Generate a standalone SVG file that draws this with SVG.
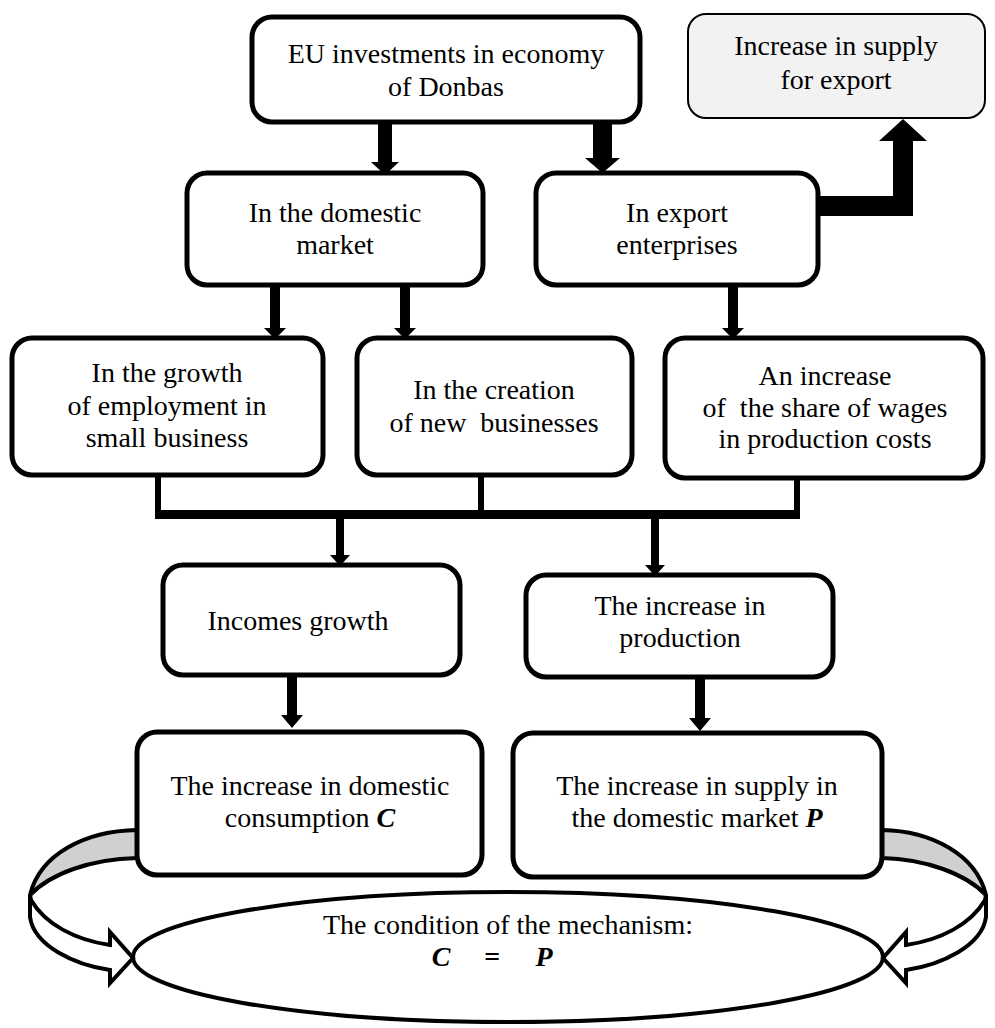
<svg xmlns="http://www.w3.org/2000/svg" width="995" height="1028" viewBox="0 0 995 1028">
<style>
.box{fill:#fff;stroke:#000;stroke-width:5}
.gbox{fill:#f2f2f2;stroke:#000;stroke-width:2}
.t{font-family:"Liberation Serif","Times New Roman",serif;font-size:28px;fill:#000;text-anchor:middle;white-space:pre}
.bi{font-weight:bold;font-style:italic}
.arr{fill:#000;stroke:none}
.ln{stroke:#000;fill:none}
.band{fill:#d0d0d0;stroke:#000;stroke-width:4;stroke-linejoin:round}
.wband{fill:#fff;stroke:#000;stroke-width:4;stroke-linejoin:miter}
</style>
<rect width="995" height="1028" fill="#fff"/>

<g id="mechanism">
<ellipse cx="508" cy="957" rx="375" ry="65" fill="#fff" stroke="#000" stroke-width="4"/>
<text class="t" x="508" y="934">The condition of the mechanism:</text>
<text class="t bi" y="966"><tspan x="441">C</tspan><tspan x="492">=</tspan><tspan x="544">P</tspan></text>
</g>

<g id="connectors">
<path class="arr" d="M378 122 H392 V162 H399 L385 175 L371 162 H378 Z"/>
<path class="arr" d="M593 122 H612 V158 H620 L602.5 173 L585 158 H593 Z"/>
<path class="arr" d="M818 196 H893 V141 H879 L903 119 L927 141 H913 V216 H818 Z"/>
<path class="arr" d="M270 285 H280 V328 H286 L275 339 L264 328 H270 Z"/>
<path class="arr" d="M400 285 H410 V328 H416 L405 339 L394 328 H400 Z"/>
<path class="arr" d="M728 285 H738 V328 H744 L733 339 L722 328 H728 Z"/>
<path class="ln" stroke-width="6" d="M158 475 V514 M481 475 V514 M797 478 V514"/>
<path class="ln" stroke-width="9" d="M155 514.5 H800"/>
<path class="arr" d="M336 519 H344 V555 H350 L340 566 L330 555 H336 Z"/>
<path class="arr" d="M651 519 H659 V565 H665 L655 576 L645 565 H651 Z"/>
<path class="arr" d="M287 675 H297 V715 H303 L292 728 L281 715 H287 Z"/>
<path class="arr" d="M695 677 H705 V718 H711 L700 731 L689 718 H695 Z"/>
<g id="loop-left">
<path class="band" d="M137 830 C 85 831, 40 854, 30 895 C 50 874, 90 859, 137 858 Z"/>
<path class="wband" d="M30 895 L30 917 C 34 946, 75 965, 110 970 L110 983 L133 958 L110 932 L110 945 C 75 940, 45 924, 31 900 Z"/>
</g>
<g id="loop-right" transform="translate(1016,0) scale(-1,1)">
<path class="band" d="M134 830 C 85 831, 40 854, 30 895 C 50 874, 90 859, 134 858 Z"/>
<path class="wband" d="M30 895 L30 917 C 34 946, 75 965, 110 970 L110 983 L133 958 L110 932 L110 945 C 75 940, 45 924, 31 900 Z"/>
</g>
</g>

<g id="eu">
<rect class="box" x="252" y="17" width="388" height="105" rx="20"/>
<text class="t" x="446" y="63">EU investments in economy</text>
<text class="t" x="446" y="96">of Donbas</text>
</g>
<g id="export-supply">
<rect class="gbox" x="688" y="14" width="297" height="104" rx="18"/>
<text class="t" x="836" y="55">Increase in supply</text>
<text class="t" x="836" y="89">for export</text>
</g>
<g id="domestic">
<rect class="box" x="187" y="173" width="296" height="112" rx="20"/>
<text class="t" x="335" y="222">In the domestic</text>
<text class="t" x="335" y="254">market</text>
</g>
<g id="export">
<rect class="box" x="536" y="173" width="282" height="112" rx="20"/>
<text class="t" x="677" y="222">In export</text>
<text class="t" x="677" y="254">enterprises</text>
</g>
<g id="employment">
<rect class="box" x="12" y="338" width="311" height="137" rx="20"/>
<text class="t" x="167" y="382">In the growth</text>
<text class="t" x="167" y="415">of employment in</text>
<text class="t" x="167" y="447">small business</text>
</g>
<g id="creation">
<rect class="box" x="357" y="338" width="275" height="137" rx="20"/>
<text class="t" x="494" y="399">In the creation</text>
<text class="t" x="494" y="432">of new  businesses</text>
</g>
<g id="wages">
<rect class="box" x="665" y="338" width="318" height="140" rx="20"/>
<text class="t" x="825" y="385">An increase</text>
<text class="t" x="825" y="417">of  the share of wages</text>
<text class="t" x="825" y="448">in production costs</text>
</g>
<g id="incomes">
<rect class="box" x="163" y="565" width="297" height="110" rx="20"/>
<text class="t" x="298" y="630">Incomes growth</text>
</g>
<g id="production">
<rect class="box" x="526" y="575" width="307" height="102" rx="20"/>
<text class="t" x="680" y="615">The increase in</text>
<text class="t" x="680" y="647">production</text>
</g>
<g id="consumption">
<rect class="box" x="137" y="732" width="345" height="143" rx="20"/>
<text class="t" x="310" y="795">The increase in domestic</text>
<text class="t" x="310" y="827">consumption <tspan class="bi">C</tspan></text>
</g>
<g id="supply">
<rect class="box" x="513" y="733" width="369" height="144" rx="20"/>
<text class="t" x="697" y="795">The increase in supply in</text>
<text class="t" x="697" y="827">the domestic market <tspan class="bi">P</tspan></text>
</g>
</svg>
